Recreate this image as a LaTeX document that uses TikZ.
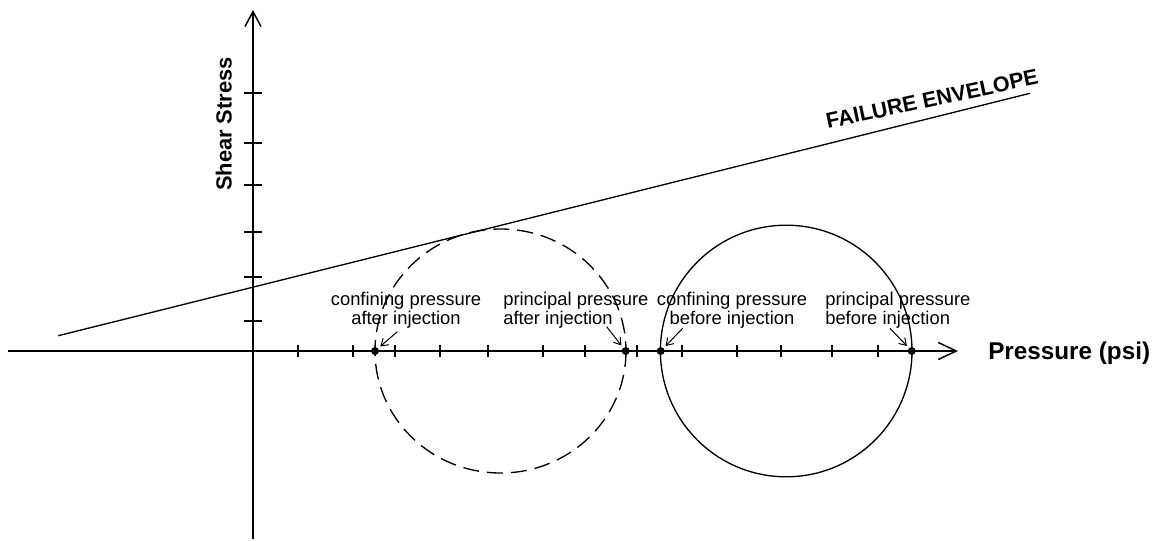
\documentclass[tikz,border=0pt]{standalone}
\usepackage{fontspec}
\setmainfont{Liberation Sans}
\usetikzlibrary{arrows.meta}
\begin{document}
\begin{tikzpicture}[x=0.75pt,y=-0.75pt,
  axis/.style={line width=1.1pt},
  tickmark/.style={line width=0.95pt},
  curve/.style={line width=1pt},
  dot/.style={circle,fill=black,inner sep=0pt,minimum size=6pt},
  ptr/.style={line width=0.75pt,-{Straight Barb[length=5pt,width=6.5pt]},shorten >=2pt},
  lbl/.style={inner sep=0pt,font=\fontsize{13.8}{14.6}\selectfont},
  bold/.style={inner sep=0pt,font=\bfseries\fontsize{#1}{#1}\selectfont}]
\useasboundingbox (0,0) rectangle (1159,540);
% axes
\coordinate (xs) at (8,351);
\coordinate (xe) at (958,351);
\coordinate (ys) at (253,539);
\coordinate (ye) at (253,10);
\draw[axis,-{Straight Barb[length=13.5pt,width=12.75pt]}] (xs) -- (xe);
\draw[axis,-{Straight Barb[length=11.25pt,width=12pt]}] (ys) -- (ye);
% ticks
\foreach \t in {298,353,395,440,488,543,585,637,682,737,781,832,878}
  \draw[tickmark] (\t,345) -- (\t,357);
\foreach \t in {93,143,185,232,277,321}
  \draw[tickmark] (244,\t) -- (262,\t);
% failure envelope
\coordinate (fa) at (58.3,335.7);
\coordinate (fb) at (1030,93.3);
\draw[curve] (fa) -- (fb);
% circles
\draw[curve,dash pattern=on 12pt off 6pt] (500.5,351) ellipse [x radius=125.5,y radius=122];
\draw[curve] (786.2,351) circle [radius=125.8];
% dots
\node[dot] (ca) at (375,351) {};
\node[dot] (pa) at (625.7,351) {};
\node[dot] (cb) at (660.7,351) {};
\node[dot] (pb) at (911.7,351) {};
% labels
\node[lbl,anchor=north,align=center] (tca) at (406,291.5) {confining pressure\\after injection};
\node[lbl,anchor=north west,align=left] (tpa) at (503,291.5) {principal pressure\\after injection};
\node[lbl,anchor=north,align=center] (tcb) at (732,291.5) {confining pressure\\before injection};
\node[lbl,anchor=north west,align=left] (tpb) at (825,291.5) {principal pressure\\before injection};
% pointers
\coordinate (ca0) at (397.3,331.7);
\coordinate (pa0) at (606.7,326.7);
\coordinate (cb0) at (682.7,328.3);
\coordinate (pb0) at (890,328.3);
\draw[ptr] (ca0) -- (ca);
\draw[ptr] (pa0) -- (pa);
\draw[ptr] (cb0) -- (cb);
\draw[ptr] (pb0) -- (pb);
% axis titles
\node[bold=18.2,anchor=base west] (px) at (988,359) {Pressure (psi)};
\node[bold=16.4,anchor=south,rotate=90] (sy) at (232,124) {Shear Stress};
\node[bold=16.2,rotate=12] (fe) at (932,99) {FAILURE ENVELOPE};
\end{tikzpicture}
\end{document}
